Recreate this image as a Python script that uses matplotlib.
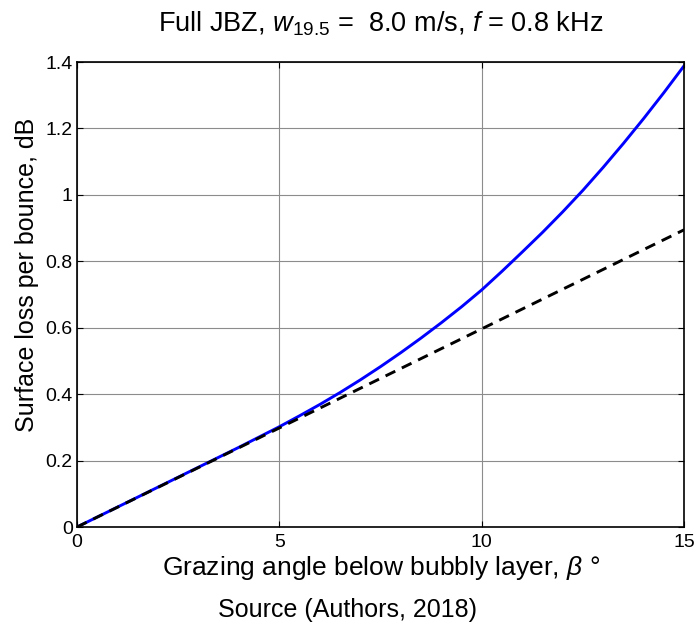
import matplotlib
matplotlib.use('Agg')
import matplotlib.pyplot as plt

# grazing angle (deg) and surface loss per bounce (dB)
angle = [0, 1, 2, 3, 4, 5, 5.5, 6, 6.5, 7, 7.5, 8, 8.5, 9, 9.5, 10,
         10.5, 11, 11.5, 12, 12.5, 13, 13.5, 14, 14.5, 15]
loss_full = [0.0, 0.06, 0.12, 0.18, 0.24, 0.302, 0.335, 0.369, 0.405, 0.443,
             0.483, 0.525, 0.569, 0.615, 0.663, 0.714, 0.77, 0.828, 0.887,
             0.949, 1.014, 1.083, 1.155, 1.23, 1.308, 1.389]
angle_lin = [0, 15]
loss_lin = [0.0, 0.895]

xticks = [0, 5, 10, 15]
yticks = [0, 0.2, 0.4, 0.6, 0.8, 1.0, 1.2, 1.4]
ytick_labels = ['0', '0.2', '0.4', '0.6', '0.8', '1', '1.2', '1.4']

plt.rcParams['font.family'] = ['Liberation Sans', 'DejaVu Sans']
plt.rcParams['mathtext.fontset'] = 'custom'
plt.rcParams['mathtext.it'] = 'Liberation Sans:italic'
plt.rcParams['mathtext.rm'] = 'Liberation Sans'

fig = plt.figure(figsize=(6.96, 6.24), dpi=100)
ax = fig.add_axes([0.1106, 0.1554, 0.8724, 0.7452])

ax.plot(angle, loss_full, color='#0000ff', lw=2.1)
ax.plot(angle_lin, loss_lin, color='black', lw=2.1, ls=(0, (3.7, 2.5)))

ax.set_xlim(0, 15)
ax.set_ylim(0, 1.4)
ax.set_xticks(xticks)
ax.set_yticks(yticks)
ax.set_yticklabels(ytick_labels)
ax.tick_params(direction='in', labelsize=14, length=4, top=True, right=True)
ax.tick_params(axis='y', pad=3)
ax.tick_params(axis='x', pad=5)
ax.grid(True, color='#8c8c8c', lw=0.8)
for s in ax.spines.values():
    s.set_linewidth(1.2)

ax.set_title(r'Full JBZ, $w_{19.5}$ =  8.0 m/s, $f$ = 0.8 kHz', fontsize=19.5, pad=22)
ax.set_xlabel(r'Grazing angle below bubbly layer, $\beta$ °', fontsize=19, labelpad=2)
ax.set_ylabel('Surface loss per bounce, dB', fontsize=18)
ax.yaxis.set_label_coords(-0.062, 0.542)
fig.text(0.5, 0.0112, 'Source (Authors, 2018)', ha='center', va='baseline', fontsize=18)

fig.savefig('out.png', dpi=100)
